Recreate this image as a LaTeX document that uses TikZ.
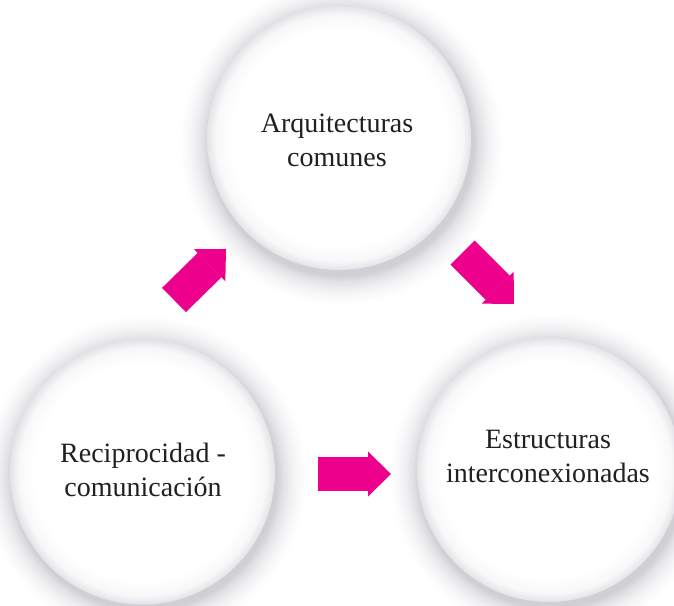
\documentclass[tikz,border=0pt]{standalone}
\usepackage{fontspec}
\setmainfont{Liberation Serif}
\usetikzlibrary{arrows.meta}
\definecolor{mag}{RGB}{236,0,140}
\definecolor{txt}{RGB}{35,31,32}
\definecolor{shcore}{RGB}{208,208,212}
\definecolor{shmid}{RGB}{226,226,230}
\definecolor{shout}{RGB}{240,240,242}
\definecolor{shfar}{RGB}{249,249,250}
\definecolor{rimA}{RGB}{248,248,249}
\definecolor{rimB}{RGB}{228,228,232}
% TikZ fits the central 50bp square of a shading to the path: 25bp = path radius
\pgfdeclareradialshading{halo}{\pgfpoint{0bp}{0bp}}{color(0bp)=(shcore); color(20.4bp)=(shcore); color(21.4bp)=(shmid); color(22.6bp)=(shout); color(23.8bp)=(shfar); color(25bp)=(white); color(50bp)=(white)}
\pgfdeclareradialshading{disc}{\pgfpoint{0bp}{0bp}}{color(0bp)=(white); color(20.5bp)=(white); color(23.3bp)=(rimA); color(25bp)=(rimB); color(50bp)=(rimB)}
\tikzset{
  bubble/.style={circle, minimum size=264pt, inner sep=0pt, shade, shading=disc},
  halo/.style={shade, shading=halo},
  lbl/.style={align=center, text=txt, font=\fontsize{28}{34}\selectfont, inner sep=0pt},
  bigarrow/.style={draw=mag, line width=34pt, -{Triangle[length=23pt,width=45pt,line width=0pt]}}
}
\begin{document}
\begin{tikzpicture}[x=1pt,y=1pt]
\useasboundingbox (0,0) rectangle (674,605);
\fill[white] (0,0) rectangle (674,605);
% circle centres
\coordinate (cT) at (339,467);
\coordinate (cL) at (142.5,133);
\coordinate (cR) at (549,135);
% shadows
\path[halo] ([xshift=2pt,yshift=-5pt]cT) circle[radius=162];
\path[halo] ([xshift=2pt,yshift=-5pt]cL) circle[radius=162];
\path[halo] ([xshift=2pt,yshift=-5pt]cR) circle[radius=162];
% circles
\node[bubble] (T) at (cT) {};
\node[bubble, minimum size=265pt] (L) at (cL) {};
\node[bubble] (R) at (cR) {};
% texts
\node[lbl] (Tt) at (337,465) {Arquitecturas\\comunes};
\node[lbl] (Lt) at (143,135) {Reciprocidad -\\comunicación};
\node[lbl] (Rt) at (548,148.5) {Estructuras\\interconexionadas};
% arrows
\coordinate (a1s) at (174,305);
\coordinate (a1e) at (226,356);
\coordinate (a2s) at (462.5,352.5);
\coordinate (a2e) at (514,301);
\coordinate (a3s) at (318,131);
\coordinate (a3e) at (391,131);
\draw[bigarrow] (a1s) -- (a1e);
\draw[bigarrow] (a2s) -- (a2e);
\draw[bigarrow] (a3s) -- (a3e);
\end{tikzpicture}
\end{document}
